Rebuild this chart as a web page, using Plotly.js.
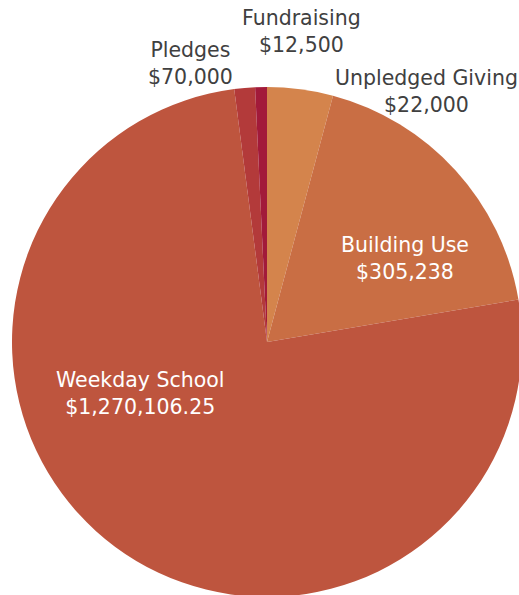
<!DOCTYPE html>
<html>
<head>
<meta charset="utf-8">
<script src="https://cdn.plot.ly/plotly-3.0.1.min.js"></script>
<style>
html,body{margin:0;padding:0;overflow:hidden;background:#fff;}
#chart{width:522px;height:597px;}
</style>
</head>
<body>
<div id="chart"></div>
<script>
// Data (clockwise from 12 o'clock)
var categories = ["Pledges", "Building Use", "Weekday School", "Unpledged Giving", "Fundraising"];
var values = [70000, 305238, 1270106.25, 22000, 12500];
var valueLabels = ["$70,000", "$305,238", "$1,270,106.25", "$22,000", "$12,500"];
var colors = ["#D4844C", "#C96E44", "#BE553E", "#B33A3A", "#A21A3A"];

// Label placement (pixel centres) and colours, as drawn in the reference
var W = 522, H = 597;
var labelSpots = {
  "Fundraising":      {x: 301, y: 31, c: "#404040"},
  "Pledges":          {x: 190, y: 63, c: "#404040"},
  "Unpledged Giving": {x: 426, y: 91, c: "#404040"},
  "Building Use":     {x: 405, y: 259, c: "#ffffff"},
  "Weekday School":   {x: 140, y: 393, c: "#ffffff"}
};

var annotations = categories.map(function(cat, i){
  var s = labelSpots[cat];
  return {
    xref: "paper", yref: "paper",
    x: s.x / W, y: 1 - s.y / H,
    xanchor: "center", yanchor: "middle",
    text: cat + "<br>" + valueLabels[i],
    showarrow: false,
    font: {family: "DejaVu Sans", size: 20.5, color: s.c}
  };
});

var trace = {
  type: "pie",
  labels: categories,
  values: values,
  sort: false,
  direction: "clockwise",
  rotation: 0,
  marker: {colors: colors, line: {width: 0}},
  textinfo: "none",
  hoverinfo: "label+value",
  domain: {x: [12 / W, 1], y: [0, 1 - 87 / H]}
};

var layout = {
  width: W, height: H,
  margin: {l: 0, r: 0, t: 0, b: 0},
  showlegend: false,
  paper_bgcolor: "#ffffff",
  annotations: annotations
};

Plotly.newPlot("chart", [trace], layout, {displayModeBar: false, staticPlot: true});
</script>
</body>
</html>
